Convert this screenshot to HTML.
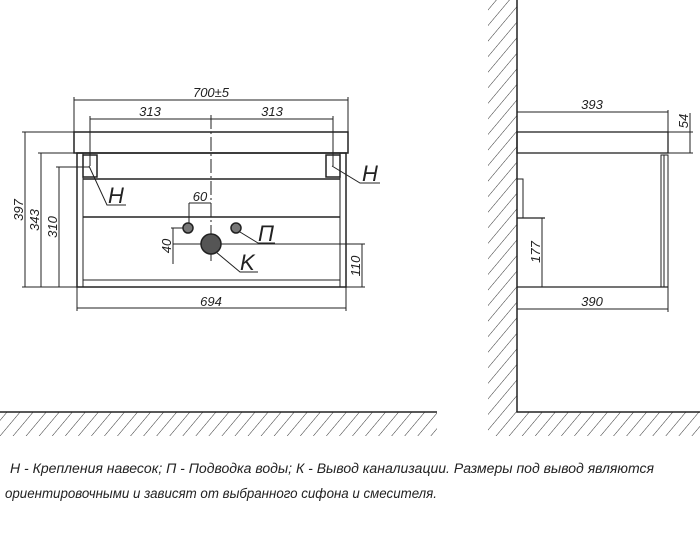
<!DOCTYPE html>
<html><head><meta charset="utf-8"><style>
html,body{margin:0;padding:0;background:#fff;}
svg{display:block;}
text{font-family:"Liberation Sans",sans-serif;font-style:italic;fill:#222;}
</style></head><body>
<svg width="700" height="555" viewBox="0 0 700 555" xmlns="http://www.w3.org/2000/svg">
<defs>
<pattern id="h" width="10" height="10" patternUnits="userSpaceOnUse" patternTransform="rotate(40)">
<line x1="0" y1="0" x2="0" y2="10" stroke="#333" stroke-width="1"/>
</pattern>
</defs>
<g stroke="#222" fill="none" stroke-width="1">
<!-- Front view -->
<rect x="74" y="132" width="274" height="21" stroke-width="1.5"/>
<rect x="77" y="153" width="269" height="134" stroke-width="1.5"/>
<line x1="83" y1="153" x2="83" y2="287"/>
<line x1="340" y1="153" x2="340" y2="287"/>
<line x1="83" y1="179" x2="340" y2="179" stroke-width="1.5"/>
<line x1="83" y1="217" x2="340" y2="217" stroke-width="1.5"/>
<line x1="83" y1="280" x2="340" y2="280"/>
<rect x="83" y="155" width="14" height="22" stroke-width="1.5"/>
<rect x="326" y="155" width="14" height="22" stroke-width="1.5"/>
<line x1="211" y1="115" x2="211" y2="262" stroke-dasharray="14,3,2,3"/>
<!-- top dims -->
<line x1="74" y1="97" x2="74" y2="132"/><line x1="348" y1="97" x2="348" y2="132"/>
<line x1="74" y1="100" x2="348" y2="100"/>
<line x1="90" y1="116" x2="90" y2="166"/><line x1="333" y1="116" x2="333" y2="166"/>
<line x1="90" y1="119" x2="333" y2="119"/>
<!-- left dims -->
<line x1="22" y1="132" x2="74" y2="132"/><line x1="22" y1="287" x2="77" y2="287"/>
<line x1="25" y1="132" x2="25" y2="287"/>
<line x1="38" y1="153" x2="77" y2="153"/>
<line x1="41" y1="153" x2="41" y2="287"/>
<line x1="56" y1="167" x2="89" y2="167"/>
<line x1="59" y1="167" x2="59" y2="287"/>
<!-- H leaders -->
<polyline points="89,166 107,205 126,205"/>
<polyline points="332,166 360,183 380,183"/>
<!-- holes -->
<line x1="189" y1="203" x2="211" y2="203"/>
<line x1="189" y1="203" x2="189" y2="224"/>
<line x1="171" y1="228" x2="184" y2="228"/>
<line x1="173" y1="228" x2="173" y2="264"/>
<line x1="173" y1="244" x2="365" y2="244"/>
<line x1="362" y1="244" x2="362" y2="287"/>
<line x1="346" y1="287" x2="365" y2="287"/>
<circle cx="188" cy="228" r="5" fill="#777" stroke-width="1.5"/>
<circle cx="236" cy="228" r="5" fill="#777" stroke-width="1.5"/>
<circle cx="211" cy="244" r="10" fill="#555" stroke-width="1.5"/>
<polyline points="240,232 258,243 275,243" />
<polyline points="216,252 240,272 258,272"/>
<!-- 694 -->
<line x1="77" y1="287" x2="77" y2="311"/><line x1="346" y1="287" x2="346" y2="311"/>
<line x1="77" y1="308" x2="346" y2="308"/>
<!-- Side view -->
<rect x="488" y="0" width="29" height="412" fill="url(#h)" stroke="none"/>
<rect x="488" y="412" width="212" height="24" fill="url(#h)" stroke="none"/>
<polyline points="517,0 517,412 700,412" stroke-width="1.5"/>
<rect x="517" y="132" width="151" height="21" stroke-width="1.3"/>
<line x1="517" y1="287" x2="668" y2="287" stroke-width="1.3"/>
<rect x="661" y="155" width="7" height="132"/>
<line x1="664" y1="155" x2="664" y2="287"/>
<polyline points="517,179 523,179 523,218"/>
<line x1="517" y1="218" x2="545" y2="218" stroke-width="1.3"/>
<line x1="542" y1="218" x2="542" y2="287"/>
<line x1="517" y1="112" x2="668" y2="112"/>
<line x1="668" y1="110" x2="668" y2="132"/>
<line x1="668" y1="132" x2="693" y2="132"/><line x1="668" y1="153" x2="693" y2="153"/>
<line x1="690" y1="113" x2="690" y2="153"/>
<line x1="668" y1="287" x2="668" y2="312"/>
<line x1="517" y1="309" x2="668" y2="309"/>
<!-- left floor -->
<rect x="0" y="412" width="437" height="24" fill="url(#h)" stroke="none"/>
<line x1="0" y1="412" x2="437" y2="412" stroke-width="1.5"/>
</g>
<g font-size="13">
<text x="211" y="97" text-anchor="middle">700±5</text>
<text x="150" y="116" text-anchor="middle">313</text>
<text x="272" y="116" text-anchor="middle">313</text>
<text x="200" y="201" text-anchor="middle">60</text>
<text x="211" y="306" text-anchor="middle">694</text>
<text x="592" y="109" text-anchor="middle">393</text>
<text x="592" y="306" text-anchor="middle">390</text>
</g>
<g font-size="13">
<text transform="translate(23,210) rotate(-90)" text-anchor="middle">397</text>
<text transform="translate(39,220) rotate(-90)" text-anchor="middle">343</text>
<text transform="translate(57,227) rotate(-90)" text-anchor="middle">310</text>
<text transform="translate(171,246) rotate(-90)" text-anchor="middle">40</text>
<text transform="translate(360,266) rotate(-90)" text-anchor="middle">110</text>
<text transform="translate(540,252) rotate(-90)" text-anchor="middle">177</text>
<text transform="translate(688,121) rotate(-90)" text-anchor="middle">54</text>
</g>
<g font-size="22">
<text x="108" y="203">H</text>
<text x="362" y="181">H</text>
<text x="258" y="241">П</text>
<text x="240" y="270">K</text>
</g>
<g font-size="13.5">
<text x="10" y="473" textLength="644" lengthAdjust="spacingAndGlyphs">Н - Крепления навесок; П - Подводка воды; К - Вывод канализации. Размеры под вывод являются</text>
<text x="5" y="498" textLength="432" lengthAdjust="spacingAndGlyphs">ориентировочными и зависят от выбранного сифона и смесителя.</text>
</g>
</svg>
</body></html>
